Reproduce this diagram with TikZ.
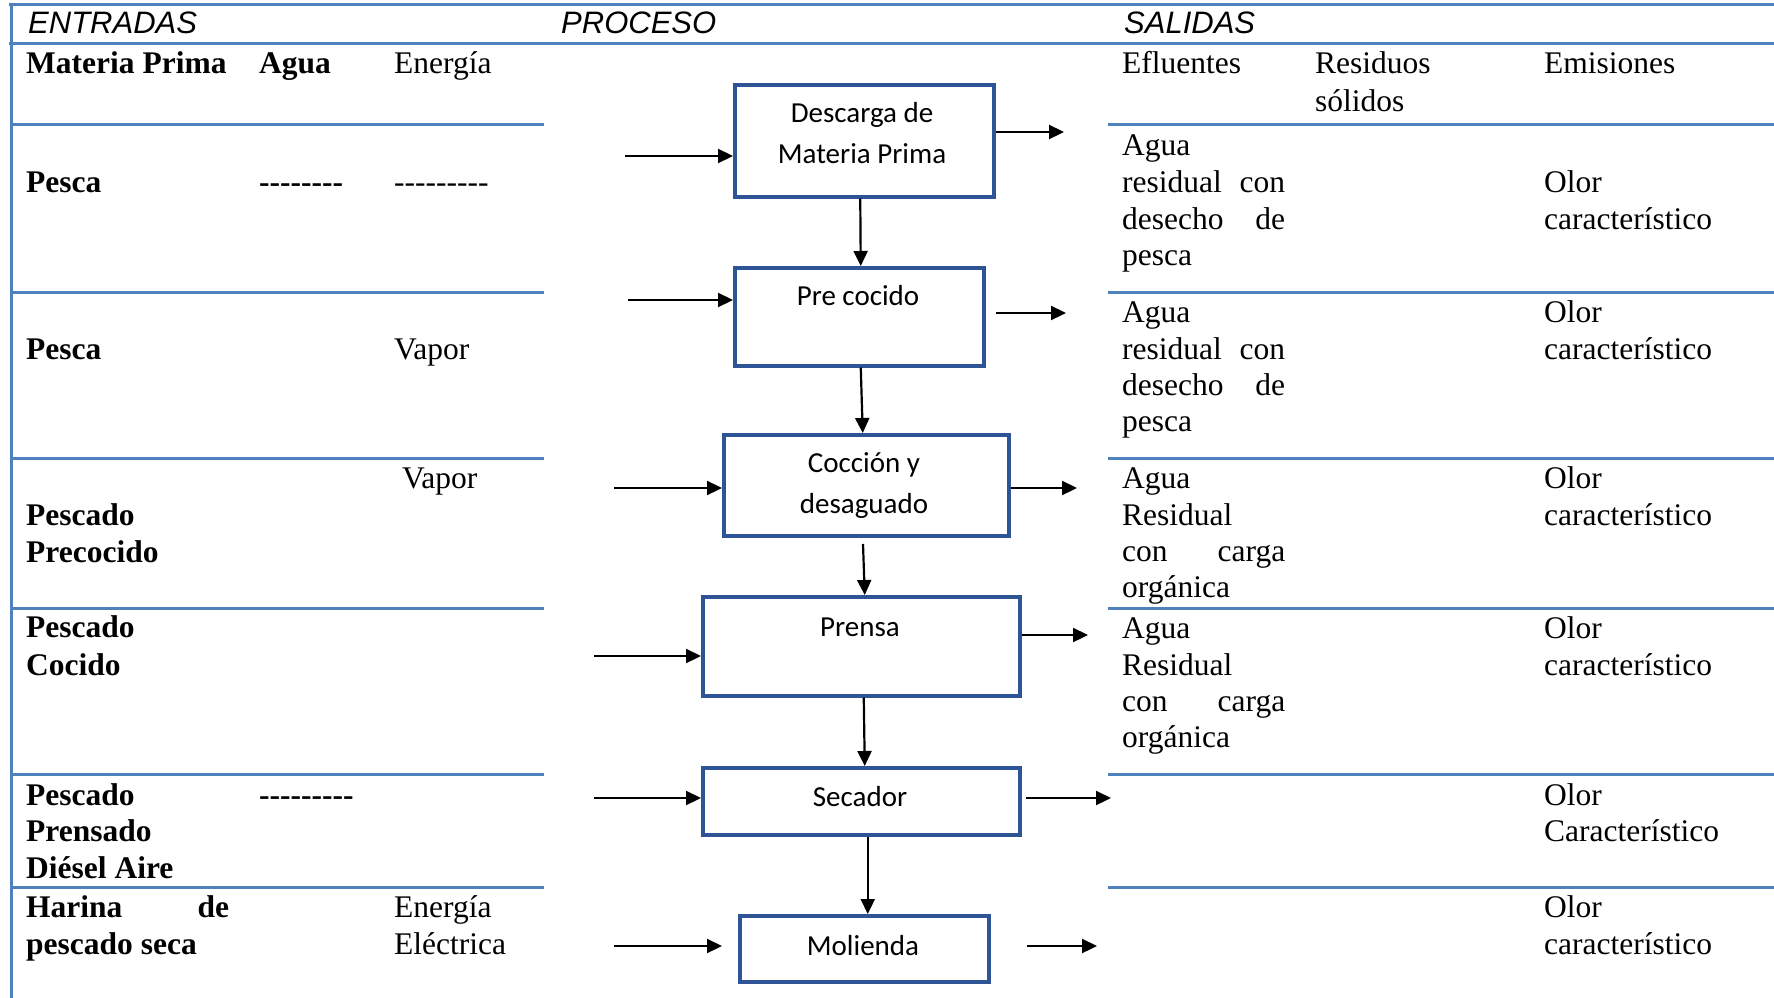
\documentclass[tikz,border=0pt]{standalone}
\usepackage{fontspec}
\setmainfont{Liberation Serif}[Ligatures=TeXOff]
\newfontfamily\boxfont{Carlito}
\newfontfamily\headfont{Liberation Sans}
\usetikzlibrary{arrows.meta}
\definecolor{tblue}{HTML}{4F81BD}
\definecolor{bblue}{HTML}{2F5496}
\begin{document}
\begin{tikzpicture}[x=1pt,y=-1pt,
 rule/.style={tblue,line width=3pt},
 txt/.style={anchor=base west,inner sep=0pt,font=\fontsize{31.5}{36.5}\selectfont},
 btxt/.style={anchor=base west,inner sep=0pt,font=\fontsize{31.5}{36.5}\selectfont\bfseries},
 hdr/.style={anchor=base west,inner sep=0pt,font=\fontsize{31}{36}\selectfont\headfont\itshape},
 proc/.style={draw=bblue,line width=3.5pt,inner sep=0pt,anchor=north west},
 ptxt/.style={inner sep=0pt,align=center,font=\fontsize{29}{41}\selectfont\boxfont},
 flow/.style={line width=2.2pt,-{Triangle[length=15pt,width=14pt]}},
]
\useasboundingbox (0,0) rectangle (1774,998);
% table rules
\draw[rule] (9,5) -- (1774,5);
\draw[rule] (9,44) -- (1774,44);
\draw[rule] (11,5) -- (11,998);
\foreach \yy in {124.5,292,458,608,774,887}{
  \draw[rule] (11,\yy) -- (544,\yy);
  \draw[rule] (1108,\yy) -- (1774,\yy);
}
% headers
\node[hdr] (hE) at (28,34) {ENTRADAS};
\node[hdr] (hP) at (561,34) {PROCESO};
\node[hdr] (hS) at (1124,34) {SALIDAS};
% inputs column
\node[btxt] (mp) at (26,74) {Materia Prima};
\node[btxt] (ag) at (259,74) {Agua};
\node[txt] (en) at (394,74) {Energía};
\node[btxt] (p1) at (26,192) {Pesca};
\node[btxt] (d1) at (259,192) {--------};
\node[txt] (d2) at (394,192) {---------};
\node[btxt] (p2) at (26,359) {Pesca};
\node[txt] (v2) at (394,359) {Vapor};
\node[txt] (v3) at (402,488) {Vapor};
\node[btxt] (p3a) at (26,525) {Pescado};
\node[btxt] (p3b) at (26,562) {Precocido};
\node[btxt] (p4a) at (26,637) {Pescado};
\node[btxt] (p4b) at (26,675) {Cocido};
\node[btxt] (p5a) at (26,805) {Pescado};
\node[btxt] (p5b) at (26,841) {Prensado};
\node[btxt] (p5c) at (26,878) {Diésel Aire};
\node[btxt] (d5) at (259,805) {---------};
\node[btxt] (p6a) at (26,917) {\makebox[203pt][s]{Harina de}};
\node[btxt] (p6b) at (26,954) {pescado seca};
\node[txt] (e6a) at (394,917) {Energía};
\node[txt] (e6b) at (394,954) {Eléctrica};
% outputs column
\node[txt] (ef) at (1122,74) {Efluentes};
\node[txt] (rs) at (1315,74) {Residuos};
\node[txt] (rs2) at (1315,111) {sólidos};
\node[txt] (em) at (1544,74) {Emisiones};
\node[txt] (o1a) at (1122,155) {Agua};
\node[txt] (o1b) at (1122,192) {\makebox[163pt][s]{residual con}};
\node[txt] (o1c) at (1122,229) {\makebox[163pt][s]{desecho de}};
\node[txt] (o1d) at (1122,265) {pesca};
\node[txt] (s1a) at (1544,192) {Olor};
\node[txt] (s1b) at (1544,229) {característico};
\node[txt] (o2a) at (1122,322) {Agua};
\node[txt] (o2b) at (1122,359) {\makebox[163pt][s]{residual con}};
\node[txt] (o2c) at (1122,395) {\makebox[163pt][s]{desecho de}};
\node[txt] (o2d) at (1122,431) {pesca};
\node[txt] (s2a) at (1544,322) {Olor};
\node[txt] (s2b) at (1544,359) {característico};
\node[txt] (o3a) at (1122,488) {Agua};
\node[txt] (o3b) at (1122,525) {Residual};
\node[txt] (o3c) at (1122,561) {\makebox[163pt][s]{con carga}};
\node[txt] (o3d) at (1122,597) {orgánica};
\node[txt] (s3a) at (1544,488) {Olor};
\node[txt] (s3b) at (1544,525) {característico};
\node[txt] (o4a) at (1122,638) {Agua};
\node[txt] (o4b) at (1122,675) {Residual};
\node[txt] (o4c) at (1122,711) {\makebox[163pt][s]{con carga}};
\node[txt] (o4d) at (1122,747) {orgánica};
\node[txt] (s4a) at (1544,638) {Olor};
\node[txt] (s4b) at (1544,675) {característico};
\node[txt] (s5a) at (1544,805) {Olor};
\node[txt] (s5b) at (1544,841) {Característico};
\node[txt] (s6a) at (1544,917) {Olor};
\node[txt] (s6b) at (1544,954) {característico};
% process boxes
\node[proc,minimum width=259pt,minimum height=112pt] (b1) at (733,83) {};
\node[proc,minimum width=249pt,minimum height=98pt] (b2) at (733,266) {};
\node[proc,minimum width=285pt,minimum height=101pt] (b3) at (722,433) {};
\node[proc,minimum width=317pt,minimum height=99pt] (b4) at (701,595) {};
\node[proc,minimum width=317pt,minimum height=67pt] (b5) at (701,766) {};
\node[proc,minimum width=249pt,minimum height=66pt] (b6) at (738,914) {};
\node[ptxt] (t1) at (862,133.5) {Descarga de\\Materia Prima};
\node[ptxt] (t2) at (858,296) {Pre cocido};
\node[ptxt] (t3) at (864,485.5) {Cocción y\\desaguado};
\node[ptxt] (t4) at (860,627) {Prensa};
\node[ptxt] (t5) at (860,797) {Secador};
\node[ptxt] (t6) at (863,946) {Molienda};
% input arrows
\coordinate (i1) at (625,156);
\coordinate (i2) at (628,300);
\coordinate (i3) at (614,488);
\coordinate (i4) at (594,656);
\coordinate (i5) at (594,798);
\coordinate (i6) at (614,946);
\coordinate (i6e) at (722,946);
\draw[flow] (i1) -- (i1 -| b1.west);
\draw[flow] (i2) -- (i2 -| b2.west);
\draw[flow] (i3) -- (i3 -| b3.west);
\draw[flow] (i4) -- (i4 -| b4.west);
\draw[flow] (i5) -- (i5 -| b5.west);
\draw[flow] (i6) -- (i6e);
% output arrows
\coordinate (o1) at (1064,132);
\coordinate (o2s) at (996,313);
\coordinate (o2) at (1066,313);
\coordinate (o3) at (1077,488);
\coordinate (o4) at (1088,635);
\coordinate (o5s) at (1026,798);
\coordinate (o5) at (1111,798);
\coordinate (o6s) at (1027,946);
\coordinate (o6) at (1097,946);
\draw[flow] (o1 -| b1.east) -- (o1);
\draw[flow] (o2s) -- (o2);
\draw[flow] (o3 -| b3.east) -- (o3);
\draw[flow] (o4 -| b4.east) -- (o4);
\draw[flow] (o5s) -- (o5);
\draw[flow] (o6s) -- (o6);
% vertical flow
\coordinate (c3) at (863,544);
\draw[flow] ([xshift=-4pt]b1.south) -- ([xshift=1.5pt]b2.north);
\draw[flow] ([xshift=1.5pt]b2.south) -- ([xshift=-3.5pt]b3.north);
\draw[flow] (c3) -- ([xshift=3.5pt]b4.north);
\draw[flow] ([xshift=2.5pt]b4.south) -- ([xshift=3.5pt]b5.north);
\draw[flow] ([xshift=6.5pt]b5.south) -- ([xshift=3.5pt]b6.north);
\end{tikzpicture}
\end{document}
